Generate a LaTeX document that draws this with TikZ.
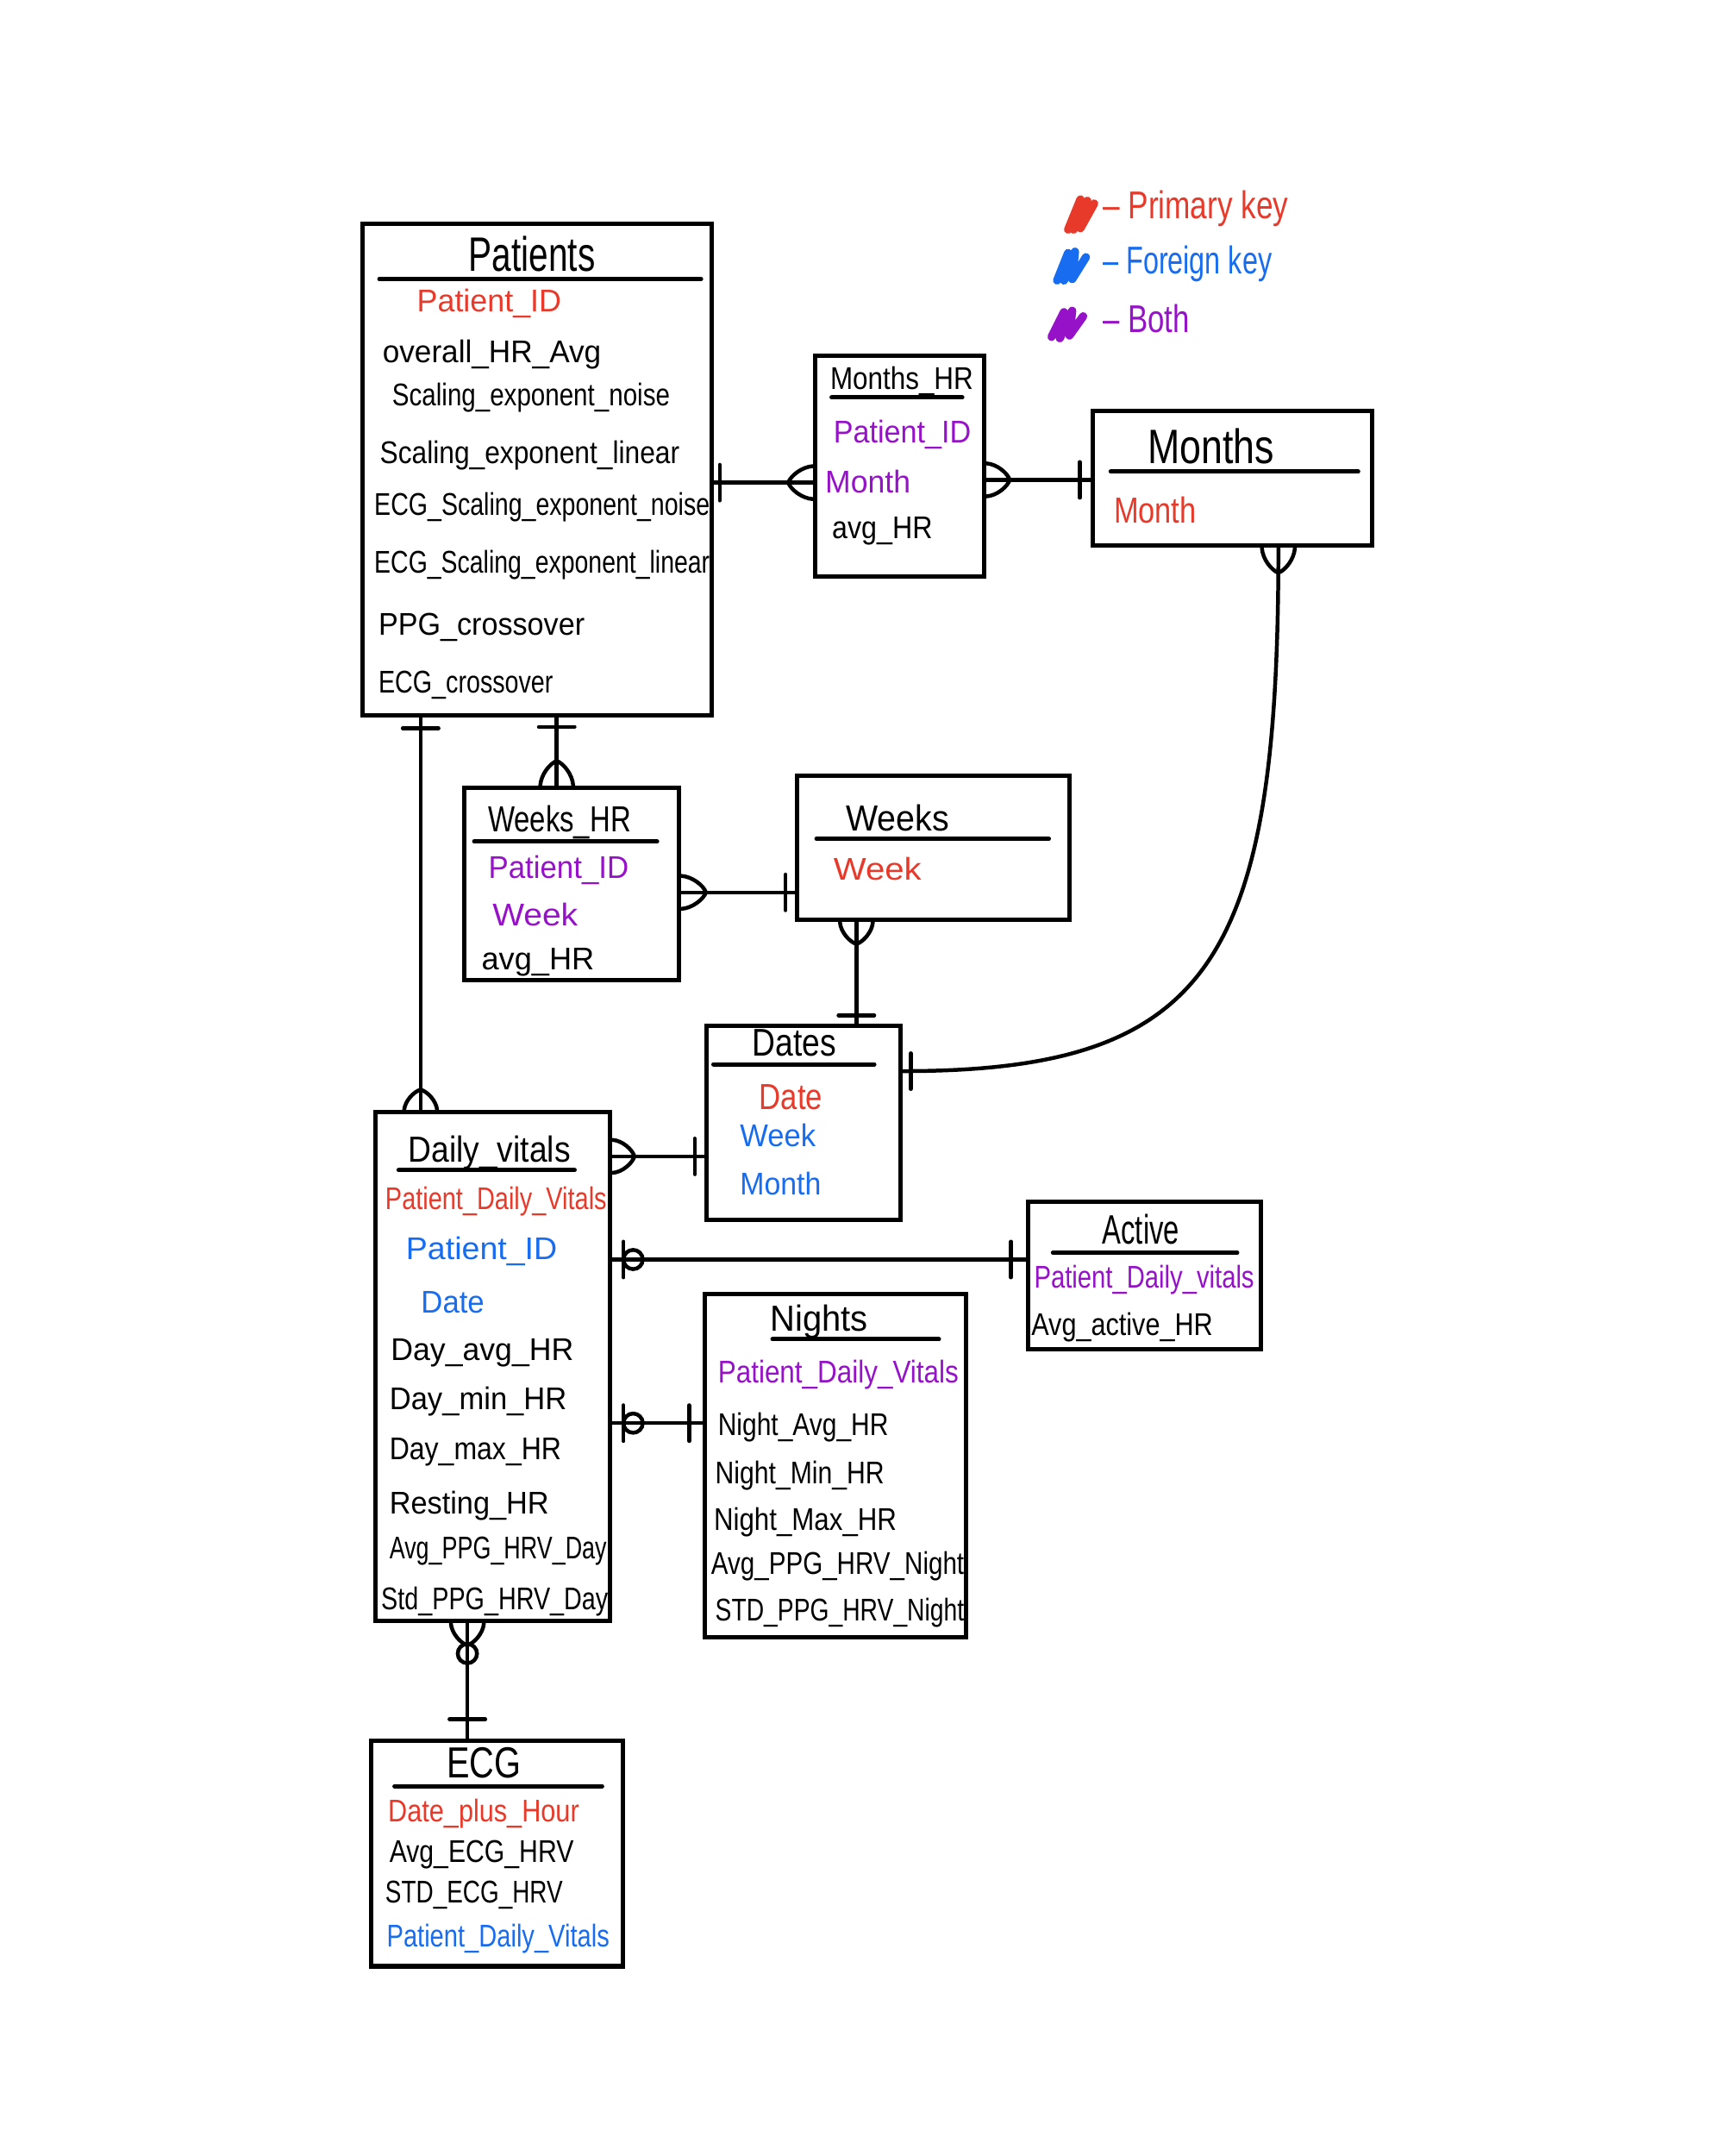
\documentclass[tikz,border=0pt]{standalone}
\usepackage{fontspec}
\setmainfont{Liberation Sans}
\usepackage{graphicx}
\usetikzlibrary{fit,calc}
\definecolor{pk}{RGB}{232,58,42}
\definecolor{fk}{RGB}{24,108,240}
\definecolor{both}{RGB}{150,18,200}
\newdimen\pxu \pxu=0.02cm
\newcommand\hw[2]{\resizebox{#1\pxu}{\height}{#2}}
\newcommand\fs[1]{\fontsize{#1}{#1}\selectfont}
\begin{document}
\begin{tikzpicture}[x=0.02cm, y=-0.02cm,
  entity/.style={draw, line width=1.8pt, inner sep=0pt},
  attr/.style={inner sep=0pt, anchor=west, font=\fs{13}},
  ttl/.style={inner sep=0pt, anchor=base},
  ul/.style={line width=1.8pt, line cap=round},
  conn/.style={line width=1.6pt, line cap=round},
  scrib/.style={line width=3.4pt, line cap=round, line join=round},
  pics/one/.style={code={\draw[conn] (#1,-13) -- (#1,13);}},
  pics/crow/.style={code={\draw[conn] (0,-12) .. controls (#1*0.45,-11.5) and (#1*0.9,-5) .. (#1,0) .. controls (#1*0.9,5) and (#1*0.45,11.5) .. (0,12);}},
  pics/zero/.style={code={\draw[conn] (#1,0) circle[radius=7];}},
]
\fill[white] (0,0) rectangle (1251,1568);
\useasboundingbox (0,0) rectangle (1251,1568);

% ---------- legend ----------
\draw[scrib, pk] (777,167) -- (786,145) -- (781,167) -- (791,146) -- (786,166) -- (796,148);
\draw[scrib, fk] (769,204) -- (777,184) -- (774,204) -- (782,183) -- (780,203) -- (790,187);
\draw[scrib, both] (765,245) -- (774,227) -- (771,246) -- (780,226) -- (778,244) -- (788,230);
\node[attr, text=pk, font=\fs{16}] (lg1) at (802,152) {\hw{135}{– Primary key}};
\node[attr, text=fk, font=\fs{16}] (lg2) at (802,192) {\hw{123}{– Foreign key}};
\node[attr, text=both, font=\fs{16}] (lg3) at (802,232) {\hw{63}{– Both}};

% ---------- boxes ----------
\node[entity, fit={(264,163) (518,520)}] (patients) {};
\node[entity, fit={(593,259) (716,419)}] (monthshr) {};
\node[entity, fit={(795,299) (998,397)}] (months) {};
\node[entity, fit={(338,573) (494,713)}] (weekshr) {};
\node[entity, fit={(580,564) (778,669)}] (weeks) {};
\node[entity, fit={(514,746) (655,887)}] (dates) {};
\node[entity, fit={(273,809) (444,1179)}] (daily) {};
\node[entity, fit={(748,874) (917,981)}] (active) {};
\node[entity, fit={(513,941) (703,1191)}] (nights) {};
\node[entity, fit={(270,1266) (453,1430)}] (ecg) {};

% ---------- Patients ----------
\node[ttl, font=\fs{20}] (pt0) at (387,197) {\hw{92}{Patients}};
\draw[ul] (276,203) -- (510,203);
\node[attr, text=pk] (pt1) at (303,221) {\hw{105}{Patient\_ID}};
\node[attr] (pt2) at (278,258) {\hw{159}{overall\_HR\_Avg}};
\node[attr] (pt3) at (285,289) {\hw{202}{Scaling\_exponent\_noise}};
\node[attr] (pt4) at (276,331) {\hw{218}{Scaling\_exponent\_linear}};
\node[attr] (pt5) at (272,369) {\hw{244}{ECG\_Scaling\_exponent\_noise}};
\node[attr] (pt6) at (272,411) {\hw{244}{ECG\_Scaling\_exponent\_linear}};
\node[attr] (pt7) at (275,456) {\hw{150}{PPG\_crossover}};
\node[attr] (pt8) at (275,498) {\hw{127}{ECG\_crossover}};

% ---------- Months_HR ----------
\node[ttl, font=\fs{13}] (mh0) at (656,283) {\hw{104}{Months\_HR}};
\draw[ul] (605,289) -- (700,289);
\node[attr, text=both] (mh1) at (606,316) {\hw{100}{Patient\_ID}};
\node[attr, text=both] (mh2) at (600,350) {\hw{62}{Month}};
\node[attr] (mh3) at (605,386) {\hw{73}{avg\_HR}};

% ---------- Months ----------
\node[ttl, font=\fs{20}] (mo0) at (881,337) {\hw{92}{Months}};
\draw[ul] (808,343) -- (988,343);
\node[attr, text=pk, font=\fs{15}] (mo1) at (810,371) {\hw{60}{Month}};

% ---------- Weeks_HR ----------
\node[ttl, font=\fs{15}] (wh0) at (407,605) {\hw{104}{Weeks\_HR}};
\draw[ul] (345,612) -- (478,612);
\node[attr, text=both] (wh1) at (355,633) {\hw{102}{Patient\_ID}};
\node[attr, text=both] (wh2) at (358,665) {\hw{62}{Week}};
\node[attr] (wh3) at (350,700) {\hw{82}{avg\_HR}};

% ---------- Weeks ----------
\node[ttl, font=\fs{15}] (wk0) at (653,604) {\hw{75}{Weeks}};
\draw[ul] (594,610) -- (763,610);
\node[attr, text=pk] (wk1) at (606,632) {\hw{64}{Week}};

% ---------- Dates ----------
\node[ttl, font=\fs{16}] (dt0) at (578,768) {\hw{61}{Dates}};
\draw[ul] (519,774) -- (636,774);
\node[attr, text=pk, font=\fs{15}] (dt1) at (552,798) {\hw{46}{Date}};
\node[attr, text=fk] (dt2) at (538,826) {\hw{55}{Week}};
\node[attr, text=fk] (dt3) at (538,861) {\hw{59}{Month}};

% ---------- Daily_vitals ----------
\node[ttl, font=\fs{15}] (dv0) at (356,845) {\hw{118}{Daily\_vitals}};
\draw[ul] (290,851) -- (418,851);
\node[attr, text=pk] (dv1) at (280,874) {\hw{161}{Patient\_Daily\_Vitals}};
\node[attr, text=fk] (dv2) at (295,910) {\hw{110}{Patient\_ID}};
\node[attr, text=fk] (dv3) at (306,947) {\hw{46}{Date}};
\node[attr] (dv4) at (284,984) {\hw{133}{Day\_avg\_HR}};
\node[attr] (dv5) at (283,1019) {\hw{129}{Day\_min\_HR}};
\node[attr] (dv6) at (283,1056) {\hw{125}{Day\_max\_HR}};
\node[attr] (dv7) at (283,1095) {\hw{116}{Resting\_HR}};
\node[attr] (dv8) at (283,1128) {\hw{158}{Avg\_PPG\_HRV\_Day}};
\node[attr] (dv9) at (277,1165) {\hw{165}{Std\_PPG\_HRV\_Day}};

% ---------- Active ----------
\node[ttl, font=\fs{17}] (ac0) at (830,905) {\hw{56}{Active}};
\draw[ul] (766,911) -- (900,911);
\node[attr, text=both] (ac1) at (752,931) {\hw{160}{Patient\_Daily\_vitals}};
\node[attr] (ac2) at (750,965) {\hw{132}{Avg\_active\_HR}};

% ---------- Nights ----------
\node[ttl, font=\fs{15}] (ni0) at (596,968) {\hw{71}{Nights}};
\draw[ul] (562,974) -- (683,974);
\node[attr, text=both] (ni1) at (522,1000) {\hw{175}{Patient\_Daily\_Vitals}};
\node[attr] (ni2) at (522,1038) {\hw{124}{Night\_Avg\_HR}};
\node[attr] (ni3) at (520,1073) {\hw{123}{Night\_Min\_HR}};
\node[attr] (ni4) at (519,1107) {\hw{133}{Night\_Max\_HR}};
\node[attr] (ni5) at (517,1139) {\hw{184}{Avg\_PPG\_HRV\_Night}};
\node[attr] (ni6) at (520,1173) {\hw{181}{STD\_PPG\_HRV\_Night}};

% ---------- ECG ----------
\node[ttl, font=\fs{18}] (ec0) at (352,1293) {\hw{54}{ECG}};
\draw[ul] (287,1299) -- (438,1299);
\node[attr, text=pk] (ec1) at (282,1319) {\hw{139}{Date\_plus\_Hour}};
\node[attr] (ec2) at (283,1349) {\hw{134}{Avg\_ECG\_HRV}};
\node[attr] (ec3) at (280,1378) {\hw{129}{STD\_ECG\_HRV}};
\node[attr, text=fk] (ec4) at (281,1410) {\hw{162}{Patient\_Daily\_Vitals}};

% ---------- connectors ----------
% Patients -- Months_HR
\draw[conn] (patients.east |- 0,351) -- (monthshr.west |- 0,351);
\pic at (patients.east |- 0,351) {one=4};
\pic[rotate=180] at (monthshr.west |- 0,351) {crow=18};
% Months_HR -- Months
\draw[conn] (monthshr.east |- 0,349) -- (months.west |- 0,349);
\pic at (monthshr.east |- 0,349) {crow=17};
\pic[rotate=180] at (months.west |- 0,349) {one=8};
% Months -- Dates (curve)
\draw[conn] (months.south -| 930,0) .. controls (930,700) and (880,779) .. (dates.east |- 0,779);
\pic[rotate=-90] at (months.south -| 930,0) {crow=18};
\pic at (dates.east |- 0,779) {one=6};
% Patients -- Weeks_HR
\draw[conn] (patients.south -| 405,0) -- (weekshr.north -| 405,0);
\pic[rotate=-90] at (patients.south -| 405,0) {one=7};
\pic[rotate=90] at (weekshr.north -| 405,0) {crow=18};
% Weeks_HR -- Weeks
\draw[conn] (weekshr.east |- 0,649) -- (weeks.west |- 0,649);
\pic at (weekshr.east |- 0,649) {crow=18};
\pic[rotate=180] at (weeks.west |- 0,649) {one=7};
% Weeks -- Dates
\draw[conn] (weeks.south -| 623,0) -- (dates.north -| 623,0);
\pic[rotate=-90] at (weeks.south -| 623,0) {crow=16};
\pic[rotate=90] at (dates.north -| 623,0) {one=6};
% Patients -- Daily_vitals
\draw[conn] (patients.south -| 306,0) -- (daily.north -| 306,0);
\pic[rotate=-90] at (patients.south -| 306,0) {one=8};
\pic[rotate=90] at (daily.north -| 306,0) {crow=15};
% Daily_vitals -- Dates
\draw[conn] (daily.east |- 0,841) -- (dates.west |- 0,841);
\pic at (daily.east |- 0,841) {crow=16};
\pic[rotate=180] at (dates.west |- 0,841) {one=7};
% Daily_vitals -- Active
\draw[conn] (daily.east |- 0,916) -- (active.west |- 0,916);
\pic at (daily.east |- 0,916) {one=8};
\pic at (daily.east |- 0,916) {zero=15};
\pic[rotate=180] at (active.west |- 0,916) {one=11};
% Daily_vitals -- Nights
\draw[conn] (daily.east |- 0,1035) -- (nights.west |- 0,1035);
\pic at (daily.east |- 0,1035) {one=8};
\pic at (daily.east |- 0,1035) {zero=15};
\pic[rotate=180] at (nights.west |- 0,1035) {one=10};
% Daily_vitals -- ECG
\draw[conn] (daily.south -| 340,0) -- (ecg.north -| 340,0);
\pic[rotate=-90] at (daily.south -| 340,0) {crow=16};
\pic[rotate=-90] at (daily.south -| 340,0) {zero=22};
\pic[rotate=90] at (ecg.north -| 340,0) {one=14};
\end{tikzpicture}
\end{document}
